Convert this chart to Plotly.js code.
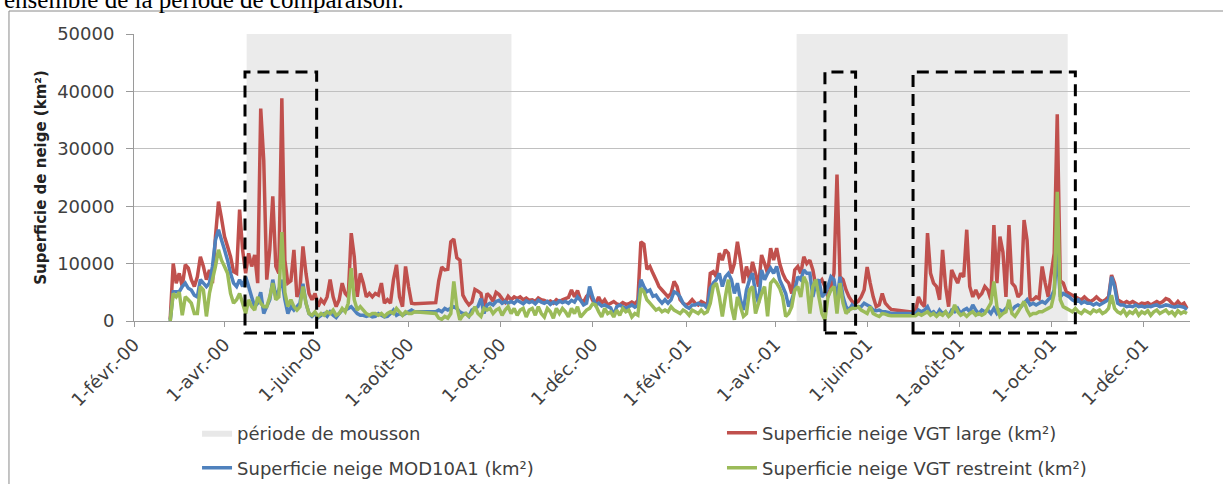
<!DOCTYPE html>
<html><head><meta charset="utf-8">
<script src="https://cdn.plot.ly/plotly-3.0.1.min.js"></script>
<style>html,body{margin:0;padding:0;background:#fff;overflow:hidden}#chart{width:1223px;height:484px}</style>
</head><body><div id="chart"></div>
<script>
// ---- data, one value every 2 days from 25 Feb 2000 ----
const seriesStart = '2000-02-25';
const stepDays = 2;

const vgtLarge = [
300,10000,6600,8300,6000,9800,9200,7200,6000,7700,
11200,9500,7200,8900,6600,14700,20800,17900,14700,13000,
11200,8600,8300,19400,12400,8300,11800,9500,11500,6600,
37000,28000,7200,12400,21700,9500,8300,38800,10600,6600,
7000,12400,4200,5400,13000,8300,4800,3700,4800,2500,
3700,3100,4200,7200,4200,2500,3700,6600,4800,4200,
15300,11200,4200,8300,6600,4200,4800,4200,4800,4500,
6600,3100,3700,3100,7200,9800,4200,2500,9500,6000,
3100,3000,null,null,null,null,null,null,3200,7000,
9400,8900,9000,13800,14300,11000,10600,4500,3500,2800,
3300,5500,5200,4800,2000,4800,4300,3400,5000,4600,
3900,3300,4300,3700,4200,3900,4200,3700,4000,3600,
3700,3400,4000,3700,3600,3300,3500,3100,3700,3400,
3700,3900,4100,5400,4200,5300,3700,3300,4300,4800,
3600,3000,4200,3100,3700,2800,3100,3400,3000,2800,
3200,2900,3000,3300,3000,3600,13800,13400,9000,9500,
8300,7200,6000,5400,4800,4200,4800,6900,6000,3700,
3100,2800,3100,3700,3100,2800,3400,3100,2500,8300,
8600,7700,11800,10600,12400,11800,8300,10000,13800,10600,
6600,9500,7200,10300,8300,6000,11500,10000,8300,12700,
10600,12700,10000,8300,7200,6600,4800,8900,9500,8300,
11200,10000,10600,8900,6000,6600,7200,6000,4200,6000,
8300,25500,7700,7200,5400,4200,3400,3100,3400,4200,
5400,9400,6600,4200,2500,2800,4800,3100,2500,2000,
null,null,null,null,null,null,null,1500,4200,3100,
2500,15300,8300,6600,6000,3700,12400,6000,2500,8900,
7700,6600,8300,7700,15900,6000,4200,5400,4200,4800,
6000,5400,3700,16700,6600,14700,12000,4200,16700,6600,
6000,4200,4800,17600,14100,3700,3700,4200,3900,9500,
6600,4200,8300,11800,36000,7000,6600,5100,4800,4500,
4200,3900,3700,4200,3700,3400,3700,4200,3700,3400,
3700,4200,8000,6600,3700,3400,3100,3400,3100,3400,
3100,2800,3100,3000,3200,2800,3100,3400,3100,3400,
3900,3700,3100,2800,3400,2800,3100,2200
];

const mod10a1 = [
0,5100,5100,5100,6000,6600,5700,5400,4500,4200,
7200,6600,6000,6600,9500,14100,15900,14100,12400,10600,
8300,6600,6000,7200,6000,7700,6000,4200,2500,3100,
5000,1300,2500,3700,7200,4200,5400,7200,3700,1300,
2500,1900,2500,3100,6500,3100,1300,800,1300,600,
1000,1300,800,1600,1000,600,1300,1900,1900,2200,
2500,1900,1300,1000,1000,800,1000,700,800,1300,
1000,700,800,1300,1900,1000,1300,1000,1300,1600,
1900,1600,null,null,null,null,null,null,1600,1900,
1600,2200,1900,2200,2500,2200,1600,1300,1300,800,
1900,2200,2500,3900,1300,2800,3100,2800,3400,3600,
3100,3400,3100,3400,3100,3600,3300,3000,3500,3200,
3400,3000,3600,3300,3100,3400,2900,3300,3000,3500,
3200,3400,3100,3600,3300,4200,3600,2800,3100,6000,
4200,2800,3100,2600,2800,2500,2300,1000,2500,2800,
2500,2200,2500,2800,2400,2700,7200,6000,5100,5400,
4300,4500,3700,3100,3700,3100,3700,5100,4800,4200,
3100,2500,2200,2800,2800,3100,2800,2800,2200,5700,
6600,7200,8300,6000,7700,8300,7200,4800,6600,3700,
1900,5400,7200,8300,4800,3100,8900,7200,8300,9200,
8300,9500,7200,6000,4800,2500,3700,5400,7700,7200,
8900,8300,8300,4200,6600,7200,4200,4800,6000,7700,
7200,3700,7700,4200,2500,1900,2800,2200,2500,2500,
3100,2800,2500,1900,1800,1900,1600,1600,1500,1300,
null,null,null,null,null,null,null,1300,1900,1600,
1900,2500,1300,1600,1000,1900,1300,1600,800,1900,
1600,2200,1300,1900,2200,1600,2800,1900,1300,1900,
1600,1900,1300,2200,1300,1900,1600,2200,2500,1900,
2500,2800,2500,3100,3700,2800,3100,2800,3100,3400,
3100,3700,4200,5400,12000,4200,4800,4500,4200,3700,
3400,3700,3100,3400,3100,3100,2800,3100,2800,3100,
3400,3700,7700,6000,3100,2800,2800,2500,2600,2500,
2800,2500,2600,2400,2600,2500,2700,2800,2500,2600,
2800,2700,2500,2400,2600,2500,2400,2000
];

const vgtRestreint = [
0,4800,4200,5000,1000,4200,3700,3100,1300,1300,
6000,5400,800,4800,7200,9500,12400,10600,9500,8300,
4800,3100,3700,4800,3100,1300,3700,2500,1900,4200,
3100,2500,2500,4200,6600,3700,4200,15500,5000,2500,
3700,2500,1900,2500,6000,3100,1300,1000,1600,800,
1300,1000,1600,1300,1900,1000,1300,2200,1600,3100,
9200,3700,1900,2500,1900,1300,1000,1300,1300,1000,
1300,800,1300,1600,1300,2200,1600,1000,1600,1300,
1300,1600,null,null,null,null,null,null,1300,500,
300,800,500,1300,6900,2500,200,1000,1300,800,
1300,2500,1300,800,2200,1900,2200,1300,1900,2200,
1000,1900,2500,1300,2200,1000,1900,2200,700,1900,
2200,1000,2500,1300,700,2200,1600,500,2200,1300,
2200,1600,700,2200,1300,2500,700,1300,1900,2200,
3000,2800,1600,700,2200,1300,1600,700,1900,1000,
2200,1600,1900,700,1300,1000,5700,5100,3700,3100,
2500,1900,2200,1600,1900,1600,2500,1900,1600,1300,
1900,1600,1000,1900,1600,1300,1900,1300,1600,3100,
6000,6600,4200,800,4200,7200,2500,200,4200,2500,
800,1300,5400,6000,1300,3100,4800,6000,800,6600,
7200,6600,5700,4200,800,1300,2500,5400,6000,4200,
7700,6600,1300,6000,7200,4200,1300,200,4200,5400,
6000,1300,6600,3100,1300,1900,2200,2200,2500,1900,
1600,1300,2500,1300,1000,800,1300,1200,1000,900,
null,null,null,null,null,null,null,900,1300,1000,
1300,1600,1000,1300,800,1300,1000,1600,800,1300,
2800,1600,1000,1300,800,1300,1600,1000,1300,1000,
1300,2200,3100,6900,2500,800,1300,1600,3700,1300,
800,1600,2500,3400,1900,1000,1300,1300,1600,1600,
1900,2200,2500,4800,22500,3700,2500,2200,1900,1600,
2200,1600,1300,1900,1600,1300,1900,1600,1900,1300,
1600,2200,4500,2200,1600,1300,1900,1000,1600,1300,
1900,1000,1600,1300,1800,1000,1600,1900,1300,1600,
1900,1300,1600,1000,1800,1300,1600,1300
];

const monsoonStart = ['2000-04-15 16:00', '2001-04-15 05:00'];
const monsoonEnd   = ['2000-10-08 05:00', '2001-10-11 22:00'];

const boxStart = ['2000-04-14 14:00', '2001-05-04 00:00', '2001-07-01 10:00'];
const boxEnd   = ['2000-06-01 02:00', '2001-05-24 08:00', '2001-10-17 00:00'];

const tickDates = ['2000-02-01','2000-04-01','2000-06-01','2000-08-01','2000-10-01','2000-12-01',
                   '2001-02-01','2001-04-01','2001-06-01','2001-08-01','2001-10-01','2001-12-01'];
const tickLabels = ['1-févr.-00','1-avr.-00','1-juin-00','1-août-00','1-oct.-00','1-déc.-00',
                    '1-févr.-01','1-avr.-01','1-juin-01','1-août-01','1-oct.-01','1-déc.-01'];

const seriesNames = ['Superficie neige VGT large (km²)', 'Superficie neige MOD10A1 (km²)', 'Superficie neige VGT restreint (km²)'];
const monsoonName = 'période de mousson';

// ---- build ----
function dayString(i) {
  const d = new Date(seriesStart + 'T00:00:00Z');
  d.setUTCDate(d.getUTCDate() + stepDays * i);
  return d.toISOString().slice(0, 10);
}
const dates = vgtLarge.map((_, i) => dayString(i));

const FONT = 'DejaVu Sans';
const TXT = '#404040';
const LW = 3.5;

const traces = [
  {x: [null], y: [null], type: 'scatter', mode: 'lines', fill: 'toself', fillcolor: '#e8e8e8',
   line: {width: 0, color: '#e8e8e8'}, name: monsoonName, legend: 'legend', showlegend: true, hoverinfo: 'skip'},
  {x: dates, y: vgtLarge, type: 'scatter', mode: 'lines', name: seriesNames[0], legend: 'legend2',
   line: {color: '#C0504D', width: LW, simplify: false}, connectgaps: true},
  {x: dates, y: mod10a1, type: 'scatter', mode: 'lines', name: seriesNames[1], legend: 'legend3',
   line: {color: '#4F81BD', width: LW, simplify: false}, connectgaps: true},
  {x: dates, y: vgtRestreint, type: 'scatter', mode: 'lines', name: seriesNames[2], legend: 'legend4',
   line: {color: '#9BBB59', width: LW, simplify: false}, connectgaps: true}
];

const shapes = [];
monsoonStart.forEach((s, k) => shapes.push({type: 'rect', xref: 'x', yref: 'paper', x0: s, x1: monsoonEnd[k],
  y0: 0, y1: 1, fillcolor: '#ebebeb', line: {width: 0}, layer: 'below'}));
boxStart.forEach((s, k) => shapes.push({type: 'rect', xref: 'x', yref: 'paper', x0: s, x1: boxEnd[k],
  y0: -0.042, y1: 0.868, fillcolor: 'rgba(0,0,0,0)', line: {color: '#000', width: 3, dash: '12px,7px'}, layer: 'above'}));
shapes.push({type: 'rect', xref: 'paper', yref: 'paper', x0: -0.1184, x1: 1.3, y0: -1.2, y1: 1.0801,
  fillcolor: 'rgba(0,0,0,0)', line: {color: '#8a8a8a', width: 1}, layer: 'below'});

function legendAt(x, y) {
  return {x: x, xanchor: 'left', y: y, yanchor: 'middle', orientation: 'h', bgcolor: 'rgba(0,0,0,0)',
          font: {family: FONT, size: 18, color: TXT}};
}

const layout = {
  width: 1223, height: 484,
  margin: {l: 134, r: 33, t: 34, b: 163, autoexpand: false},
  paper_bgcolor: '#fff', plot_bgcolor: 'rgba(0,0,0,0)',
  font: {family: FONT, color: TXT},
  showlegend: true,
  xaxis: {type: 'date', range: ['2000-02-01', '2002-01-01'], tickmode: 'array', tickvals: tickDates, ticktext: tickLabels,
          tickangle: -45, ticks: 'outside', ticklen: 5, tickcolor: '#9a9a9a', showline: true, linecolor: '#9a9a9a',
          showgrid: false, zeroline: false, automargin: false, tickfont: {family: FONT, size: 18, color: TXT}},
  yaxis: {range: [0, 50000], dtick: 10000, tickformat: 'd', ticks: 'outside', ticklen: 7, tickcolor: '#9a9a9a',
          showline: true, linecolor: '#9a9a9a', gridcolor: '#c0c0c0', zeroline: false, ticklabelstandoff: 8, automargin: false,
          tickfont: {family: FONT, size: 18, color: TXT},
          title: {text: '<b>Superficie de neige (km²)</b>', font: {family: FONT, size: 15, color: '#222'}, standoff: 6}},
  legend: legendAt(0.0597, -0.390),
  legend2: legendAt(0.5568, -0.390),
  legend3: legendAt(0.0597, -0.512),
  legend4: legendAt(0.5568, -0.512),
  shapes: shapes,
  annotations: [{text: 'ensemble de la période de comparaison.', xref: 'paper', yref: 'paper', x: -0.125, xanchor: 'left',
                 y: 1.12, yanchor: 'middle', showarrow: false, font: {family: 'Liberation Serif', size: 25, color: '#000'}}],
  hovermode: false
};

Plotly.newPlot('chart', traces, layout, {staticPlot: true, displayModeBar: false});
</script></body></html>
